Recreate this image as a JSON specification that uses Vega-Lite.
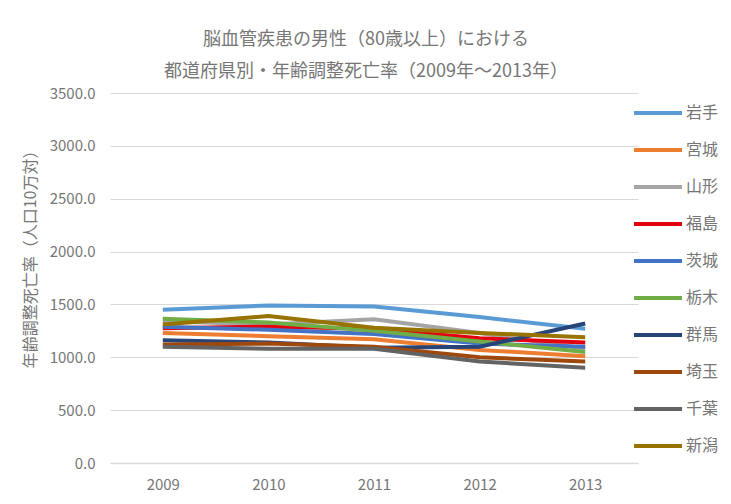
{
  "$schema": "https://vega.github.io/schema/vega-lite/v6.json",
  "autosize": {"type": "none"},
  "width": 528,
  "height": 370,
  "padding": {"left": 110, "top": 93, "right": 93, "bottom": 41},
  "background": "white",
  "config": {
    "font": "Noto Sans CJK JP",
    "view": {"stroke": null},
    "axis": {"labelColor": "#767676", "titleColor": "#767676", "gridColor": "#d9d9d9", "domainColor": "#d9d9d9"}
  },
  "title": {
    "text": ["脳血管疾患の男性（80歳以上）における", "都道府県別・年齢調整死亡率（2009年～2013年）"],
    "fontSize": 18,
    "fontWeight": "normal",
    "color": "#767676",
    "anchor": "middle",
    "frame": "group",
    "dx": -8,
    "lineHeight": 32,
    "offset": 5
  },
  "data": {
    "values": [
      {"year": "2009", "pref": "岩手", "rate": 1450},
      {"year": "2010", "pref": "岩手", "rate": 1490},
      {"year": "2011", "pref": "岩手", "rate": 1480},
      {"year": "2012", "pref": "岩手", "rate": 1380},
      {"year": "2013", "pref": "岩手", "rate": 1270},
      {"year": "2009", "pref": "宮城", "rate": 1230},
      {"year": "2010", "pref": "宮城", "rate": 1200},
      {"year": "2011", "pref": "宮城", "rate": 1170},
      {"year": "2012", "pref": "宮城", "rate": 1070},
      {"year": "2013", "pref": "宮城", "rate": 1010},
      {"year": "2009", "pref": "山形", "rate": 1340},
      {"year": "2010", "pref": "山形", "rate": 1310},
      {"year": "2011", "pref": "山形", "rate": 1360},
      {"year": "2012", "pref": "山形", "rate": 1230},
      {"year": "2013", "pref": "山形", "rate": 1080},
      {"year": "2009", "pref": "福島", "rate": 1275},
      {"year": "2010", "pref": "福島", "rate": 1290},
      {"year": "2011", "pref": "福島", "rate": 1270},
      {"year": "2012", "pref": "福島", "rate": 1180},
      {"year": "2013", "pref": "福島", "rate": 1140},
      {"year": "2009", "pref": "茨城", "rate": 1290},
      {"year": "2010", "pref": "茨城", "rate": 1260},
      {"year": "2011", "pref": "茨城", "rate": 1220},
      {"year": "2012", "pref": "茨城", "rate": 1130},
      {"year": "2013", "pref": "茨城", "rate": 1100},
      {"year": "2009", "pref": "栃木", "rate": 1365},
      {"year": "2010", "pref": "栃木", "rate": 1330},
      {"year": "2011", "pref": "栃木", "rate": 1250},
      {"year": "2012", "pref": "栃木", "rate": 1150},
      {"year": "2013", "pref": "栃木", "rate": 1050},
      {"year": "2009", "pref": "群馬", "rate": 1160},
      {"year": "2010", "pref": "群馬", "rate": 1140},
      {"year": "2011", "pref": "群馬", "rate": 1090},
      {"year": "2012", "pref": "群馬", "rate": 1100},
      {"year": "2013", "pref": "群馬", "rate": 1320},
      {"year": "2009", "pref": "埼玉", "rate": 1120},
      {"year": "2010", "pref": "埼玉", "rate": 1130},
      {"year": "2011", "pref": "埼玉", "rate": 1100},
      {"year": "2012", "pref": "埼玉", "rate": 1000},
      {"year": "2013", "pref": "埼玉", "rate": 960},
      {"year": "2009", "pref": "千葉", "rate": 1100},
      {"year": "2010", "pref": "千葉", "rate": 1080},
      {"year": "2011", "pref": "千葉", "rate": 1080},
      {"year": "2012", "pref": "千葉", "rate": 960},
      {"year": "2013", "pref": "千葉", "rate": 900},
      {"year": "2009", "pref": "新潟", "rate": 1310},
      {"year": "2010", "pref": "新潟", "rate": 1390},
      {"year": "2011", "pref": "新潟", "rate": 1280},
      {"year": "2012", "pref": "新潟", "rate": 1230},
      {"year": "2013", "pref": "新潟", "rate": 1190}
    ]
  },
  "mark": {"type": "line", "strokeWidth": 4},
  "encoding": {
    "x": {
      "field": "year",
      "type": "ordinal",
      "scale": {"type": "point", "padding": 0.5},
      "axis": {"title": null, "labelAngle": 0, "ticks": false, "labelFontSize": 15, "labelPadding": 14, "domainWidth": 1.5}
    },
    "y": {
      "field": "rate",
      "type": "quantitative",
      "scale": {"domain": [0, 3500]},
      "axis": {
        "title": "年齢調整死亡率（人口10万対）",
        "titleFontSize": 16,
        "titleFontWeight": "normal",
        "titleX": -80,
        "titleY": 162,
        "titleBaseline": "middle",
        "values": [0, 500, 1000, 1500, 2000, 2500, 3000, 3500],
        "format": ".1f",
        "ticks": false,
        "domain": false,
        "labelFontSize": 15,
        "labelPadding": 15
      }
    },
    "color": {
      "field": "pref",
      "type": "nominal",
      "scale": {
        "domain": ["岩手", "宮城", "山形", "福島", "茨城", "栃木", "群馬", "埼玉", "千葉", "新潟"],
        "range": ["#5b9bd5", "#ed7d31", "#a5a5a5", "#e3000f", "#4472c4", "#70ad47", "#264478", "#9e480e", "#636363", "#997300"]
      },
      "legend": {
        "title": null,
        "orient": "none",
        "legendX": 522,
        "legendY": -6,
        "symbolType": "stroke",
        "symbolSize": 2304,
        "symbolStrokeWidth": 4,
        "labelFontSize": 16,
        "labelColor": "#767676",
        "labelOffset": 2,
        "rowPadding": 3
      }
    }
  }
}
